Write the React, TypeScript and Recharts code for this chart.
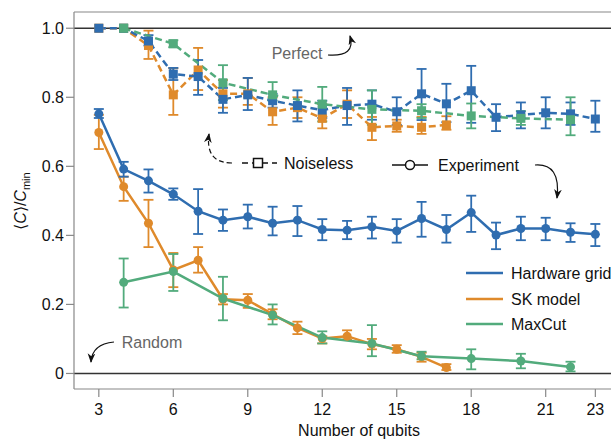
import React from 'react';
import { ComposedChart, Line, XAxis, YAxis, ErrorBar, ReferenceLine } from 'recharts';

const BLUE = '#2f6db0';
const ORANGE = '#df8a2b';
const GREEN = '#52ab7c';
const FONT = '"Liberation Sans", Arial, sans-serif';

const Y_MIN = -0.045;
const Y_MAX = 1.047;

const xTicks = [3, 6, 9, 12, 15, 18, 21, 23];
const yTicks = [0, 0.2, 0.4, 0.6, 0.8, 1.0];

// Hardware grid
const gridN = [3, 4, 5, 6, 7, 8, 9, 10, 11, 12, 13, 14, 15, 16, 17, 18, 19, 20, 21, 22, 23];
const gridExp = [0.752, 0.592, 0.558, 0.519, 0.47, 0.444, 0.454, 0.435, 0.444, 0.417, 0.415, 0.425, 0.413, 0.449, 0.417, 0.466, 0.401, 0.42, 0.42, 0.409, 0.403];
const gridExpLo = [0.74, 0.57, 0.524, 0.503, 0.404, 0.413, 0.42, 0.4, 0.398, 0.386, 0.389, 0.391, 0.379, 0.396, 0.379, 0.41, 0.36, 0.386, 0.386, 0.381, 0.369];
const gridExpHi = [0.766, 0.613, 0.591, 0.536, 0.534, 0.475, 0.489, 0.483, 0.485, 0.447, 0.442, 0.454, 0.447, 0.497, 0.459, 0.515, 0.437, 0.454, 0.451, 0.435, 0.433];
const gridIdeal = [1, 1, 0.963, 0.867, 0.86, 0.794, 0.807, 0.79, 0.776, 0.763, 0.776, 0.78, 0.758, 0.81, 0.781, 0.819, 0.742, 0.749, 0.755, 0.752, 0.737];
const gridIdealLo = [null, null, 0.95, 0.85, 0.807, 0.755, 0.763, 0.77, 0.73, 0.74, 0.72, 0.735, 0.72, 0.734, 0.728, 0.726, 0.702, 0.71, 0.71, 0.72, 0.7];
const gridIdealHi = [null, null, 0.98, 0.885, 0.908, 0.827, 0.856, 0.81, 0.82, 0.79, 0.827, 0.82, 0.8, 0.882, 0.839, 0.891, 0.78, 0.785, 0.8, 0.785, 0.79];

// SK model
const skN = [3, 4, 5, 6, 7, 8, 9, 10, 11, 12, 13, 14, 15, 16, 17];
const skExp = [0.698, 0.541, 0.435, 0.3, 0.328, 0.215, 0.212, 0.172, 0.132, 0.101, 0.108, 0.085, 0.07, 0.048, 0.017];
const skExpLo = [0.65, 0.5, 0.366, 0.25, 0.292, 0.2, 0.19, 0.157, 0.114, 0.087, 0.098, 0.07, 0.06, 0.034, 0.01];
const skExpHi = [0.749, 0.57, 0.503, 0.349, 0.366, 0.23, 0.23, 0.186, 0.15, 0.108, 0.125, 0.1, 0.082, 0.06, 0.027];
const skIdeal = [1, 1, 0.95, 0.807, 0.879, 0.81, 0.81, 0.758, 0.77, 0.739, 0.78, 0.713, 0.717, 0.713, 0.72];
const skIdealLo = [null, null, 0.911, 0.749, 0.821, 0.77, 0.778, 0.72, 0.74, 0.71, 0.74, 0.676, 0.7, 0.694, 0.706];
const skIdealHi = [null, null, 0.993, 0.884, 0.943, 0.85, 0.856, 0.8, 0.8, 0.78, 0.82, 0.743, 0.735, 0.743, 0.745];

// MaxCut
const mcN = [4, 6, 8, 10, 12, 14, 16, 18, 20, 22];
const mcExp = [0.264, 0.295, 0.217, 0.169, 0.104, 0.087, 0.05, 0.043, 0.036, 0.019];
const mcExpLo = [0.191, 0.239, 0.154, 0.142, 0.087, 0.05, 0.041, 0.012, 0.015, 0.006];
const mcExpHi = [0.333, 0.346, 0.28, 0.2, 0.122, 0.14, 0.063, 0.07, 0.057, 0.034];
const mcIdeal = [1, 0.955, 0.842, 0.807, 0.78, 0.765, 0.761, 0.746, 0.739, 0.735];
const mcIdealLo = [null, 0.945, 0.792, 0.79, 0.73, 0.72, 0.74, 0.71, 0.72, 0.69];
const mcIdealHi = [null, 0.965, 0.893, 0.844, 0.83, 0.82, 0.78, 0.782, 0.76, 0.8];

const build = (ns: number[], vals: number[], lo: (number | null)[], hi: (number | null)[]) =>
  ns.map((n, i) => ({
    n,
    v: vals[i],
    err: lo[i] == null ? undefined : [vals[i] - (lo[i] as number), (hi[i] as number) - vals[i]],
  }));

const gridExpRows = build(gridN, gridExp, gridExpLo, gridExpHi);
const gridIdealRows = build(gridN, gridIdeal, gridIdealLo, gridIdealHi);
const skExpRows = build(skN, skExp, skExpLo, skExpHi);
const skIdealRows = build(skN, skIdeal, skIdealLo, skIdealHi);
const mcExpRows = build(mcN, mcExp, mcExpLo, mcExpHi);
const mcIdealRows = build(mcN, mcIdeal, mcIdealLo, mcIdealHi);

const squareDot = (color: string) => (p: any) => (
  <rect key={`sq-${p.index}`} x={p.cx - 4.5} y={p.cy - 4.5} width={9} height={9} fill={color} />
);

const dashedSeries = (rows: any[], color: string) => (
  <Line
    data={rows}
    dataKey="v"
    type="linear"
    stroke={color}
    strokeWidth={2.5}
    strokeDasharray="7 4"
    dot={squareDot(color)}
    activeDot={false}
    isAnimationActive={false}
  >
    <ErrorBar dataKey="err" direction="y" width={5} stroke={color} strokeWidth={1.8} />
  </Line>
);

const solidSeries = (rows: any[], color: string) => (
  <Line
    data={rows}
    dataKey="v"
    type="linear"
    stroke={color}
    strokeWidth={2.5}
    dot={{ r: 4.5, fill: color, stroke: color, strokeWidth: 0 }}
    activeDot={false}
    isAnimationActive={false}
  >
    <ErrorBar dataKey="err" direction="y" width={5} stroke={color} strokeWidth={1.8} />
  </Line>
);

const Overlay = () => (
  <svg
    width={611}
    height={440}
    style={{ position: 'absolute', left: 0, top: 0, pointerEvents: 'none', fontFamily: FONT }}
  >
    <defs>
      <marker id="ah" viewBox="0 0 10 10" refX="9" refY="5" markerWidth="8" markerHeight="8" orient="auto-start-reverse">
        <path d="M0,1 L10,5 L0,9 L3,5 z" fill="#111" />
      </marker>
    </defs>
    {/* axis titles */}
    <text transform="translate(26,201) rotate(-90)" textAnchor="middle" fontSize={16} fill="#111">
      ⟨<tspan fontStyle="italic">C</tspan>⟩/<tspan fontStyle="italic">C</tspan>
      <tspan fontSize={11} dy={4}>min</tspan>
    </text>
    <text x={359} y={436} textAnchor="middle" fontSize={16} fill="#111">Number of qubits</text>
    {/* Perfect */}
    <text x={297} y={59} textAnchor="middle" fontSize={16} fill="#666">Perfect</text>
    <path d="M 328 55 Q 356 57 350 36" fill="none" stroke="#111" strokeWidth={1.2} markerEnd="url(#ah)" />
    {/* Random */}
    <text x={152} y={348} textAnchor="middle" fontSize={16} fill="#666">Random</text>
    <path d="M 114 342 Q 92 344 91 362" fill="none" stroke="#111" strokeWidth={1.2} markerEnd="url(#ah)" />
    {/* Noiseless key */}
    <path d="M 232 163 Q 205 163 209 134" fill="none" stroke="#111" strokeWidth={1.2} strokeDasharray="5 3" markerEnd="url(#ah)" />
    <line x1={242} y1={163} x2={277} y2={163} stroke="#111" strokeWidth={1.5} strokeDasharray="6 4" />
    <rect x={253.5} y={158.5} width={9} height={9} fill="#fff" stroke="#111" strokeWidth={1.5} />
    <text x={284} y={169} fontSize={16} fill="#111">Noiseless</text>
    {/* Experiment key */}
    <line x1={392} y1={165} x2={428} y2={165} stroke="#111" strokeWidth={1.5} />
    <circle cx={410} cy={165} r={4.5} fill="#fff" stroke="#111" strokeWidth={1.5} />
    <text x={438} y={171} fontSize={16} fill="#111">Experiment</text>
    <path d="M 535 165 Q 561 163 557 198" fill="none" stroke="#111" strokeWidth={1.2} markerEnd="url(#ah)" />
    {/* legend */}
    <line x1={466} y1={273} x2={503} y2={273} stroke={BLUE} strokeWidth={2.5} />
    <text x={511} y={279} fontSize={16} fill="#111">Hardware grid</text>
    <line x1={466} y1={299} x2={503} y2={299} stroke={ORANGE} strokeWidth={2.5} />
    <text x={511} y={305} fontSize={16} fill="#111">SK model</text>
    <line x1={466} y1={324} x2={503} y2={324} stroke={GREEN} strokeWidth={2.5} />
    <text x={511} y={330} fontSize={16} fill="#111">MaxCut</text>
  </svg>
);

export default function App() {
  return (
    <div style={{ position: 'absolute', left: 0, top: 0, width: 611, height: 440, overflow: 'hidden', background: '#fff' }}>
      <ComposedChart width={680} height={440} margin={{ top: 12, right: 35, bottom: 0, left: 0 }}>
        <XAxis
          type="number"
          dataKey="n"
          domain={[2, 25]}
          ticks={xTicks}
          allowDataOverflow
          height={51}
          tickSize={8}
          axisLine={{ stroke: '#888', strokeWidth: 1.2 }}
          tickLine={{ stroke: '#888', strokeWidth: 1.2 }}
          tick={{ fill: '#111', fontSize: 16, fontFamily: FONT, dy: 5 }}
        />
        <YAxis
          type="number"
          domain={[Y_MIN, Y_MAX]}
          ticks={yTicks}
          allowDataOverflow
          width={74}
          tickSize={8}
          axisLine={{ stroke: '#888', strokeWidth: 1.2 }}
          tickLine={{ stroke: '#888', strokeWidth: 1.2 }}
          tick={{ fill: '#111', fontSize: 16, fontFamily: FONT }}
          tickFormatter={(v: number) => (v === 0 ? '0' : v.toFixed(1))}
        />
        <ReferenceLine y={Y_MAX} stroke="#888" strokeWidth={1.2} />
        <ReferenceLine y={1} stroke="#333" strokeWidth={1.6} />
        <ReferenceLine y={0} stroke="#333" strokeWidth={1.6} />
        {dashedSeries(skIdealRows, ORANGE)}
        {dashedSeries(gridIdealRows, BLUE)}
        {dashedSeries(mcIdealRows, GREEN)}
        {solidSeries(skExpRows, ORANGE)}
        {solidSeries(mcExpRows, GREEN)}
        {solidSeries(gridExpRows, BLUE)}
      </ComposedChart>
      <Overlay />
    </div>
  );
}
